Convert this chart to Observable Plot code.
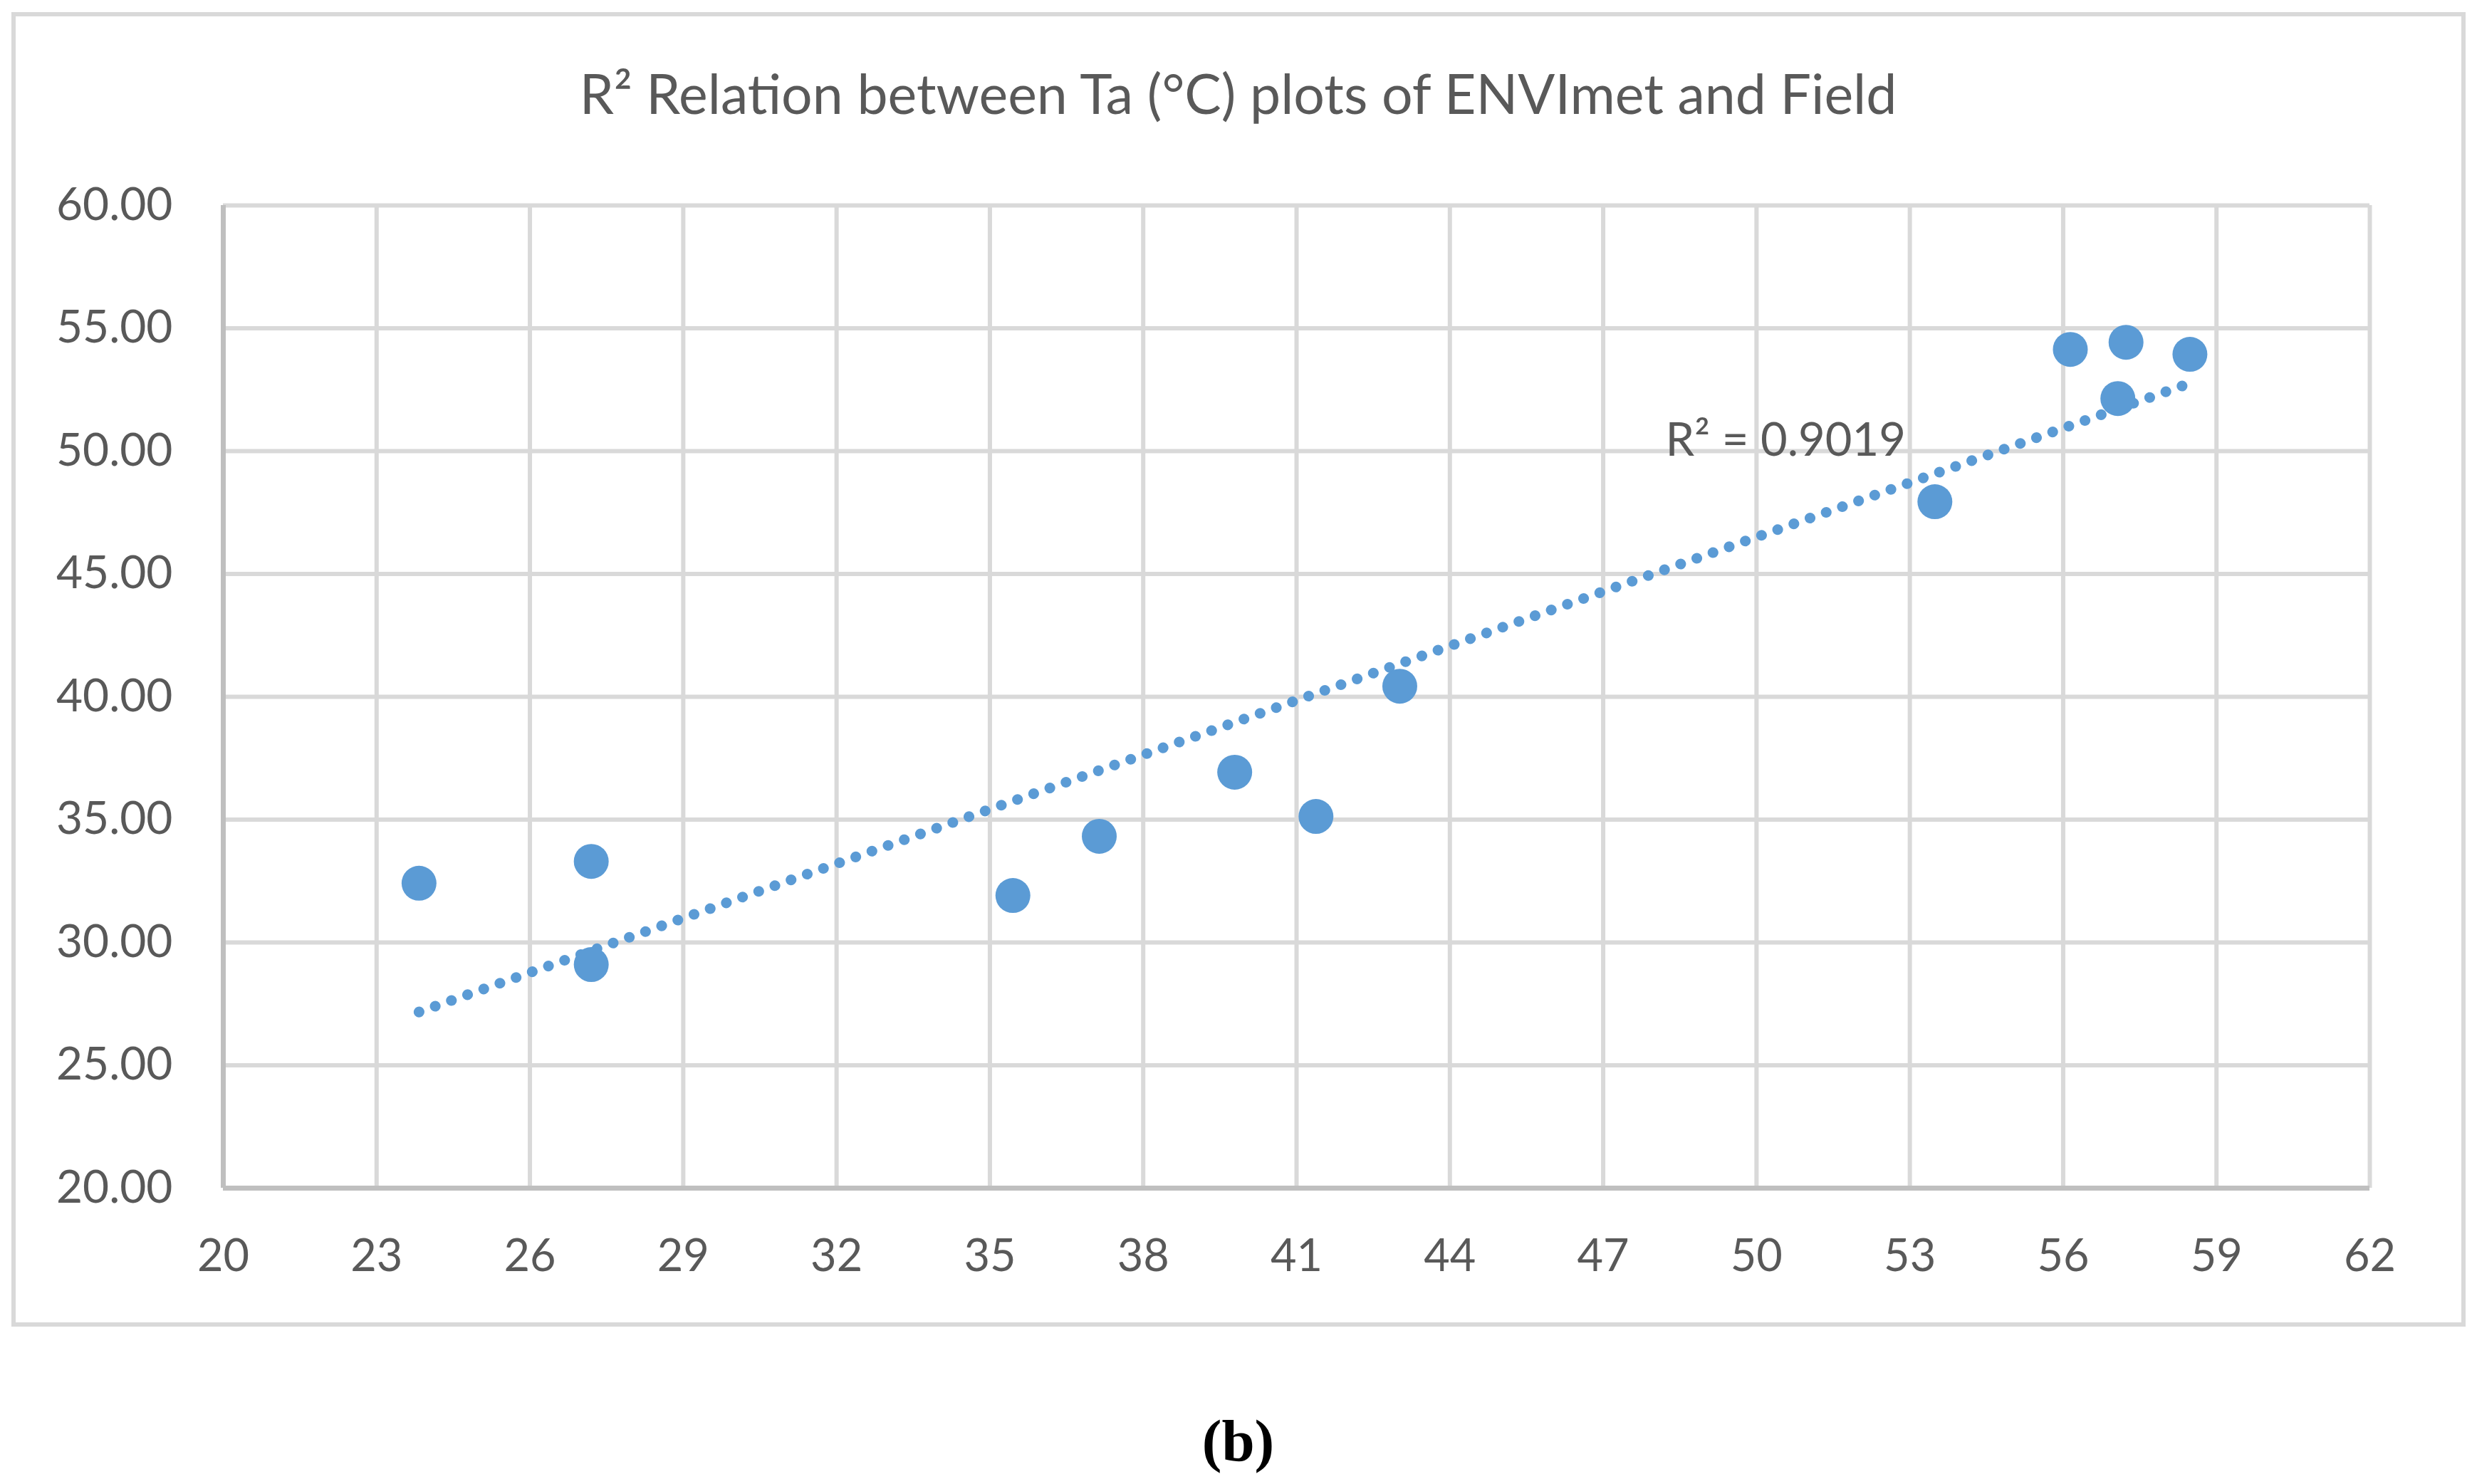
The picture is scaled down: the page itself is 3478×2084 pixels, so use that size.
<!DOCTYPE html>
<html>
<head>
<meta charset="utf-8">
<script src="https://cdn.jsdelivr.net/npm/d3@7"></script>
<script src="https://cdn.jsdelivr.net/npm/@observablehq/plot@0.6"></script>
<style>
  html, body { margin: 0; padding: 0; background: #fff; overflow: hidden; }
  #wrap { position: relative; width: 3478px; height: 2084px; }
  #border { position: absolute; left: 16px; top: 17px; width: 3446px; height: 1846px;
            border: 6px solid #D9D9D9; box-sizing: border-box; }
  #chart { position: absolute; left: 0; top: 0; }
</style>
</head>
<body>
<div id="wrap"><div id="border"></div><div id="chart"></div></div>
<script>
// Field Ta (x) vs ENVImet Ta (y), °C
const fieldTa   = [23.83, 27.20, 27.20, 35.45, 37.14, 39.79, 41.38, 43.02, 53.49, 56.14, 57.07, 57.23, 58.48];
const envimetTa = [32.41, 33.30, 29.10, 31.91, 34.32, 36.93, 35.13, 40.43, 47.94, 54.14, 52.14, 54.43, 53.94];

const xTicks = [20, 23, 26, 29, 32, 35, 38, 41, 44, 47, 50, 53, 56, 59, 62];
const yTicks = [20, 25, 30, 35, 40, 45, 50, 55, 60];

const titleText = "R² Relation between Ta (°C) plots of ENVImet and Field";
const captionText = "(b)";
const r2Label = [{x: 48.22, y: 49.80, text: "R² = 0.9019"}];

const data = fieldTa.map((x, i) => ({x, y: envimetTa[i]}));

const blue = "#5B9BD5";
const grey = "#595959";

const chart = Plot.plot({
  width: 3478,
  height: 2084,
  marginLeft: 313,
  marginRight: 151,
  marginTop: 288,
  marginBottom: 416,
  x: {domain: [20, 62]},
  y: {domain: [20, 60]},
  style: {fontFamily: "Lato, 'Open Sans', sans-serif", fontSize: "63px", color: grey, background: "transparent", overflow: "visible"},
  marks: [
    Plot.gridX(xTicks, {stroke: "#D9D9D9", strokeOpacity: 1, strokeWidth: 6}),
    Plot.gridY(yTicks, {stroke: "#D9D9D9", strokeOpacity: 1, strokeWidth: 6}),
    Plot.ruleX([20], {stroke: "#BFBFBF", strokeWidth: 7}),
    Plot.ruleY([20], {stroke: "#BFBFBF", strokeWidth: 7}),
    Plot.axisX({ticks: xTicks, tickSize: 0, tickPadding: 72, tickFormat: d => String(d), fontSize: 63, fill: grey, label: null}),
    Plot.axisY({ticks: yTicks, tickSize: 0, tickPadding: 71, tickFormat: d => d.toFixed(2), fontSize: 64, fill: grey, label: null}),
    Plot.linearRegressionY(data, {x: "x", y: "y", ci: 0, stroke: blue, strokeWidth: 15, strokeDasharray: "0.1 24", strokeLinecap: "round"}),
    Plot.dot(data, {x: "x", y: "y", r: 24.5, fill: blue, stroke: "none"}),
    Plot.text(r2Label, {x: "x", y: "y", text: "text", textAnchor: "start", lineAnchor: "bottom", fontSize: 65, fill: grey}),
    Plot.text([titleText], {frameAnchor: "top", dx: -82, dy: -129, lineAnchor: "bottom", fontSize: 77, fill: grey}),
    Plot.text([captionText], {frameAnchor: "bottom", dx: -82, dy: 382, lineAnchor: "bottom", fontSize: 83, fontWeight: "bold", fontFamily: "'Liberation Serif', serif", fill: "#000"})
  ]
});
document.getElementById("chart").appendChild(chart);
</script>
</body>
</html>
